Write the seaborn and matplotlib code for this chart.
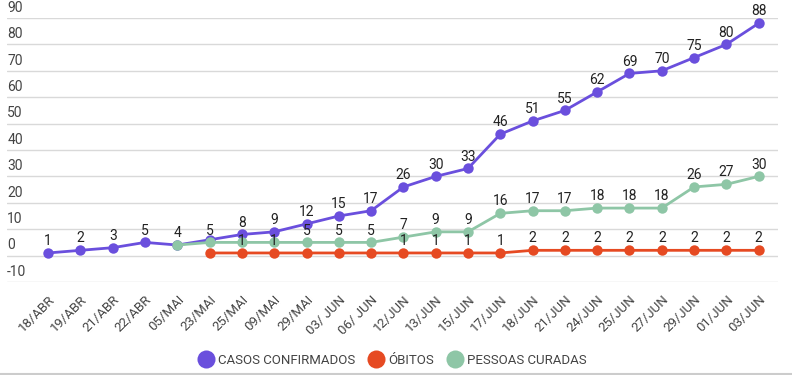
import seaborn as sns
import matplotlib.pyplot as plt
import matplotlib.transforms as mtransforms
from matplotlib.lines import Line2D
import pandas as pd
import numpy as np

# --- Data ---
datas = ['18/ABR', '19/ABR', '21/ABR', '22/ABR', '05/MAI', '23/MAI', '25/MAI', '09/MAI',
         '29/MAI', '03/ JUN', '06/ JUN', '12/JUN', '13/JUN', '15/JUN', '17/JUN', '18/JUN',
         '21/JUN', '24/JUN', '25/JUN', '27/JUN', '29/JUN', '01/JUN', '03/JUN']

casos = [1, 2, 3, 5, 4, 6, 8, 9, 12, 15, 17, 26, 30, 33, 46, 51, 55, 62, 69, 70, 75, 80, 88]
# ÓBITOS start on 23/MAI, PESSOAS CURADAS on 05/MAI
obitos = [None] * 5 + [1, 1, 1, 1, 1, 1, 1, 1, 1, 1, 2, 2, 2, 2, 2, 2, 2, 2]
curadas = [None] * 4 + [4, 5, 5, 5, 5, 5, 5, 7, 9, 9, 16, 17, 17, 18, 18, 18, 26, 27, 30]

# labels the chart hides because they collide with another series
casos_hidden = ['23/MAI']
obitos_hidden = ['23/MAI', '29/MAI', '03/ JUN', '06/ JUN']
curadas_hidden = ['05/MAI', '25/MAI', '09/MAI']

series = ['CASOS CONFIRMADOS', 'ÓBITOS', 'PESSOAS CURADAS']
cores = ['#6a4fdd', '#e64a22', '#8ec6a6']

df = pd.DataFrame({'data': datas, 'CASOS CONFIRMADOS': casos,
                   'ÓBITOS': obitos, 'PESSOAS CURADAS': curadas})
df['pos'] = np.arange(len(datas))
long_df = df.melt(id_vars=['data', 'pos'], value_vars=series,
                  var_name='serie', value_name='valor').dropna()
long_df['valor'] = long_df['valor'].astype(float)

# --- Plot ---
sns.set_theme(style="white")
plt.rcParams['font.family'] = ['Roboto', 'DejaVu Sans']

fig = plt.figure(figsize=(7.92, 3.75), dpi=100)
ax = fig.add_axes([0.009, 0.248, 0.973, 0.704])

for s, c in zip(series, cores):
    sub = long_df[long_df['serie'] == s]
    sns.lineplot(data=sub, x='pos', y='valor', color=c, linewidth=2,
                 marker='o', markersize=7.5, markeredgewidth=0, ax=ax, zorder=3)

# data labels
hidden = dict(zip(series, [casos_hidden, obitos_hidden, curadas_hidden]))
for _, r in long_df.iterrows():
    if r['data'] in hidden[r['serie']]:
        continue
    ax.annotate(f"{int(r['valor'])}", (r['pos'], r['valor']), xytext=(0, 3.5),
                textcoords='offset points', ha='center', va='bottom',
                fontsize=10, color='#222222', zorder=4)

ax.set_xlim(-1.27, 22.59)
ax.set_ylim(-10, 90)
yticks = np.arange(-10, 100, 10)
ax.set_yticks(yticks)
ax.set_yticklabels([])
ax.tick_params(axis='y', length=0)
ax.grid(axis='y', color='#d9d9d9', linewidth=1)
ax.set_axisbelow(True)
trans = mtransforms.blended_transform_factory(ax.transAxes, ax.transData)
for t in yticks:
    ax.text(0.0, t + 1.2, str(t), transform=trans, ha='left', va='bottom',
            fontsize=10, color='#444444')

ax.set_xticks(range(len(datas)))
ax.set_xticklabels(datas, rotation=45, ha='right', rotation_mode='anchor',
                   fontsize=9.5, color='#444444')
ax.tick_params(axis='x', length=0, pad=8)
ax.set_xlabel('')
ax.set_ylabel('')
for sp in ax.spines.values():
    sp.set_visible(False)

# legend at the bottom
handles = [Line2D([0], [0], marker='o', linestyle='', markersize=13,
                  markerfacecolor=c, markeredgewidth=0) for c in cores]
fig.legend(handles, series, loc='center', bbox_to_anchor=(0.495, 0.04), ncol=3,
           frameon=False, fontsize=9.5, labelcolor='#444444', handletextpad=0.3,
           handlelength=1.3, columnspacing=0.9)

# bottom border line
fig.add_artist(Line2D([0, 1], [0.003, 0.003], color='#cccccc', linewidth=1.5,
                      transform=fig.transFigure))

fig.savefig('out.png', dpi=100)
